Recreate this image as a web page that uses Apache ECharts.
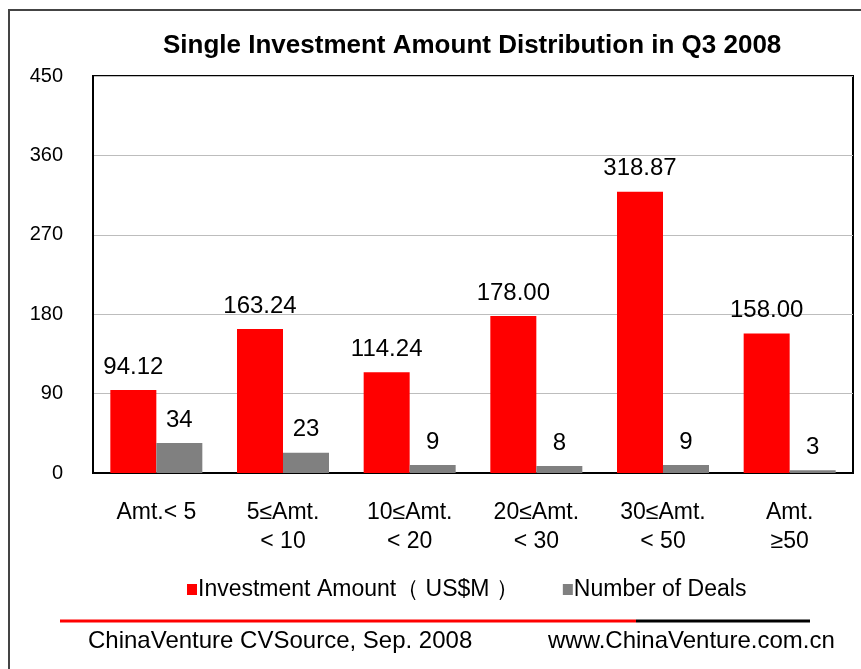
<!DOCTYPE html>
<html>
<head>
<meta charset="utf-8">
<script src="https://cdn.jsdelivr.net/npm/echarts@6/dist/echarts.min.js"></script>
<style>
  html, body { margin: 0; padding: 0; background: #fff; }
  #chart { width: 861px; height: 669px; }
</style>
</head>
<body>
<div id="chart"></div>
<script>
// data
const categories = ['Amt.< 5', '5≤Amt.\n< 10', '10≤Amt.\n< 20', '20≤Amt.\n< 30', '30≤Amt.\n< 50', 'Amt.\n≥50']
const amountValues = [94.12, 163.24, 114.24, 178.00, 318.87, 158.00]
const dealValues = [34, 23, 9, 8, 9, 3]
const yTicks = [0, 90, 180, 270, 360, 450]

const narrow = '"Liberation Sans Narrow", "Liberation Sans", Arial, sans-serif'
const sans = '"Liberation Sans", Arial, sans-serif'

const chart = echarts.init(document.getElementById('chart'))

const option = {
  animation: false,
  backgroundColor: '#fff',
  title: {
    text: 'Single Investment Amount Distribution in Q3 2008',
    left: 158,
    top: 28,
    textStyle: { fontFamily: narrow, fontSize: 26, fontWeight: 'bold', color: '#000' }
  },
  grid: { left: 93, right: 8, top: 76, bottom: 196, show: true, borderColor: '#000', borderWidth: 2 },
  legend: {
    bottom: 63,
    left: 182,
    itemWidth: 10,
    itemHeight: 11,
    itemGap: 44,
    icon: 'rect',
    textStyle: { fontFamily: narrow, fontSize: 23, color: '#000', padding: [0, 0, 0, -4] },
    data: ['Investment Amount（ US$M ）', 'Number of Deals']
  },
  xAxis: {
    type: 'category',
    data: categories,
    axisLine: { lineStyle: { color: '#000', width: 2 } },
    axisTick: { show: false },
    axisLabel: { fontFamily: sans, fontSize: 23, color: '#000', margin: 25, lineHeight: 29 }
  },
  yAxis: {
    type: 'value',
    min: yTicks[0],
    max: yTicks[yTicks.length - 1],
    interval: 90,
    axisLine: { show: true, lineStyle: { color: '#000', width: 2 } },
    axisTick: { show: false },
    axisLabel: { fontFamily: narrow, fontSize: 20, color: '#000', margin: 30 },
    splitLine: { lineStyle: { color: '#bdbdbd', width: 1 } }
  },
  series: [
    {
      name: 'Investment Amount（ US$M ）',
      type: 'bar',
      data: amountValues,
      barWidth: 46,
      barGap: '0%',
      itemStyle: { color: '#ff0000' },
      label: {
        show: true, position: 'top', distance: 11,
        fontFamily: sans, fontSize: 24, color: '#000',
        formatter: p => p.value.toFixed(2)
      }
    },
    {
      name: 'Number of Deals',
      type: 'bar',
      data: dealValues,
      barWidth: 46,
      itemStyle: { color: '#808080' },
      label: {
        show: true, position: 'top', distance: 11,
        fontFamily: sans, fontSize: 24, color: '#000'
      }
    }
  ],
  graphic: [
    // outer frame
    { type: 'polyline', shape: { points: [[9, 669], [9, 10], [861, 10]] }, style: { stroke: '#444', lineWidth: 2, fill: null } },
    // footer rule
    { type: 'line', shape: { x1: 60, y1: 621, x2: 636, y2: 621 }, style: { stroke: '#ff0000', lineWidth: 3 } },
    { type: 'line', shape: { x1: 636, y1: 621, x2: 810, y2: 621 }, style: { stroke: '#000', lineWidth: 3 } },
    { type: 'text', left: 88, top: 629, style: { text: 'ChinaVenture CVSource, Sep. 2008', font: '24px ' + sans, fill: '#000' } },
    { type: 'text', left: 548, top: 629, style: { text: 'www.ChinaVenture.com.cn', font: '24px ' + sans, fill: '#000' } }
  ]
}

chart.setOption(option)
</script>
</body>
</html>
